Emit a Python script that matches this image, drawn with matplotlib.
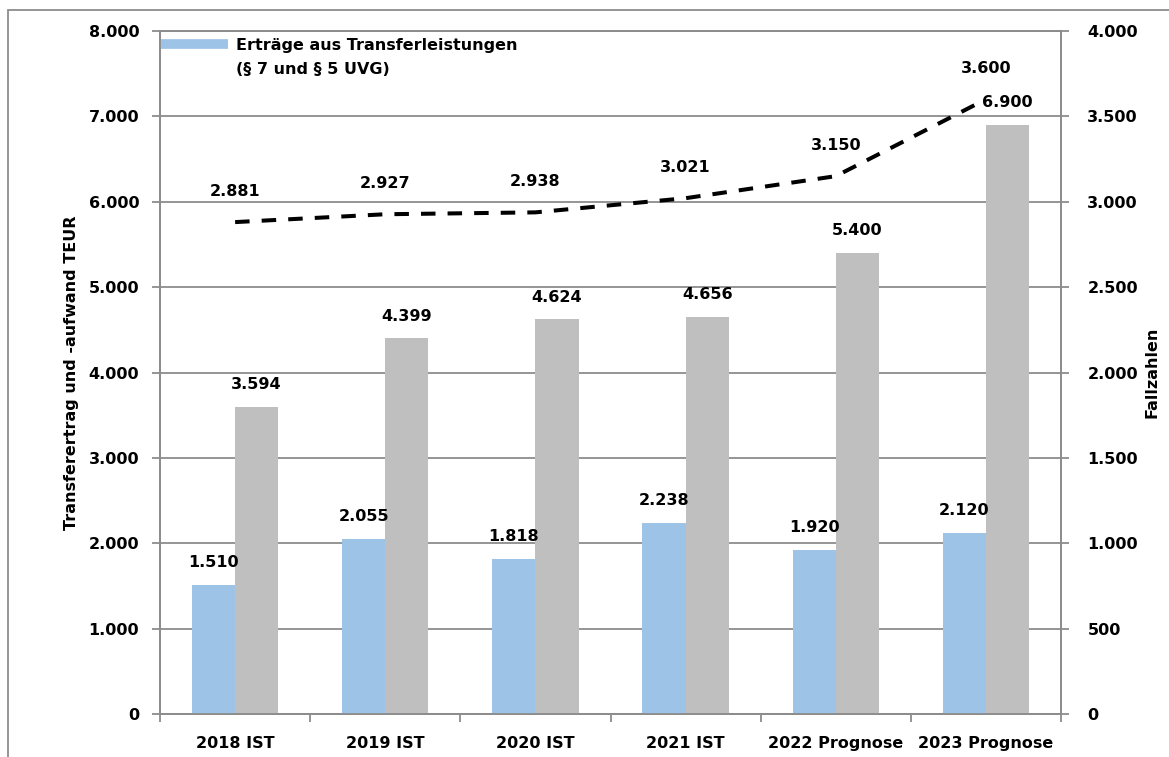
import matplotlib
matplotlib.use("Agg")
import matplotlib.pyplot as plt
from matplotlib.lines import Line2D
from matplotlib.patches import Rectangle
from matplotlib.ticker import FuncFormatter
import numpy as np

# data
categories = ["2018 IST", "2019 IST", "2020 IST", "2021 IST", "2022 Prognose", "2023 Prognose"]
ertraege = [1510, 2055, 1818, 2238, 1920, 2120]
aufwand = [3594, 4399, 4624, 4656, 5400, 6900]
fallzahlen = [2881, 2927, 2938, 3021, 3150, 3600]

legend_lines = ["Erträge aus Transferleistungen", "(§ 7 und § 5 UVG)"]
left_label = "Transferertrag und -aufwand TEUR"
right_label = "Fallzahlen"

BLUE = "#9DC3E6"
GRAY = "#BFBFBF"
AXIS_GRAY = "#8C8C8C"

plt.rcParams["font.family"] = ["DejaVu Sans"]
plt.rcParams["font.weight"] = "bold"
plt.rcParams["font.size"] = 11.5


def de_fmt(v, pos=None):
    return f"{int(round(v)):,}".replace(",", ".")


fig = plt.figure(figsize=(11.69, 7.57), dpi=100)
ax = fig.add_axes([0.1369, 0.0568, 0.7707, 0.9022])
ax2 = ax.twinx()

x = np.arange(len(categories))
w = 0.287
ax.bar(x - w / 2, ertraege, w, color=BLUE, zorder=3)
ax.bar(x + w / 2, aufwand, w, color=GRAY, zorder=3)

ax.set_xlim(-0.5, len(categories) - 0.5)
ax.set_ylim(0, 8000)
ax.set_yticks(np.arange(0, 8001, 1000))
ax.yaxis.set_major_formatter(FuncFormatter(de_fmt))
ax.grid(axis="y", color=AXIS_GRAY, linewidth=1.3, zorder=0)
ax.set_axisbelow(True)

# category ticks sit between the groups
ax.set_xticks(np.arange(-0.5, len(categories), 1.0))
ax.set_xticklabels([])
ax.set_xticks(x, minor=True)
ax.set_xticklabels(categories, minor=True, fontweight="bold")
ax.tick_params(axis="x", which="minor", length=0, pad=16)
ax.tick_params(axis="x", which="major", length=6, color=AXIS_GRAY, width=1.3)
ax.tick_params(axis="y", length=6, color=AXIS_GRAY, width=1.3, pad=9)

ax2.set_ylim(0, 4000)
ax2.set_yticks(np.arange(0, 4001, 500))
ax2.yaxis.set_major_formatter(FuncFormatter(de_fmt))
ax2.tick_params(axis="y", length=6, color=AXIS_GRAY, width=1.3, pad=13)
ax2.plot(x, fallzahlen, color="black", linewidth=2.9, dashes=(3.6, 3.0), zorder=4)

for a in (ax, ax2):
    for s in a.spines.values():
        s.set_color(AXIS_GRAY)
        s.set_linewidth(1.3)

ax.set_ylabel(left_label, fontweight="bold", labelpad=7)
ax2.set_ylabel(right_label, fontweight="bold", labelpad=5)

# value labels
for xi, v in zip(x, ertraege):
    ax.annotate(de_fmt(v), (xi - w / 2, v), xytext=(0, 16), textcoords="offset points",
                ha="center", va="center", fontweight="bold")
for xi, v in zip(x, aufwand):
    ax.annotate(de_fmt(v), (xi + w / 2, v), xytext=(0, 16), textcoords="offset points",
                ha="center", va="center", fontweight="bold")
for xi, v in zip(x, fallzahlen):
    ax2.annotate(de_fmt(v), (xi, v), xytext=(0, 22), textcoords="offset points",
                 ha="center", va="center", fontweight="bold")

handles = [Line2D([0], [0], color=BLUE, linewidth=7, solid_capstyle="butt"),
           Line2D([0], [0], color="none")]
ax.legend(handles, legend_lines, loc="upper left", bbox_to_anchor=(0, 0.99),
          frameon=False, borderaxespad=0.0, borderpad=0.0, handlelength=4.25,
          handletextpad=0.5, labelspacing=0.6, prop={"weight": "bold", "size": 11.5})

# outer chart frame, partly cut off by the image edge
fig.add_artist(Rectangle((8 / 1169, -0.05), 1.2, 1 - 10 / 757 + 0.05,
                         transform=fig.transFigure, fill=False,
                         edgecolor=AXIS_GRAY, linewidth=1.3, clip_on=False))

fig.savefig("out.png", dpi=100)
